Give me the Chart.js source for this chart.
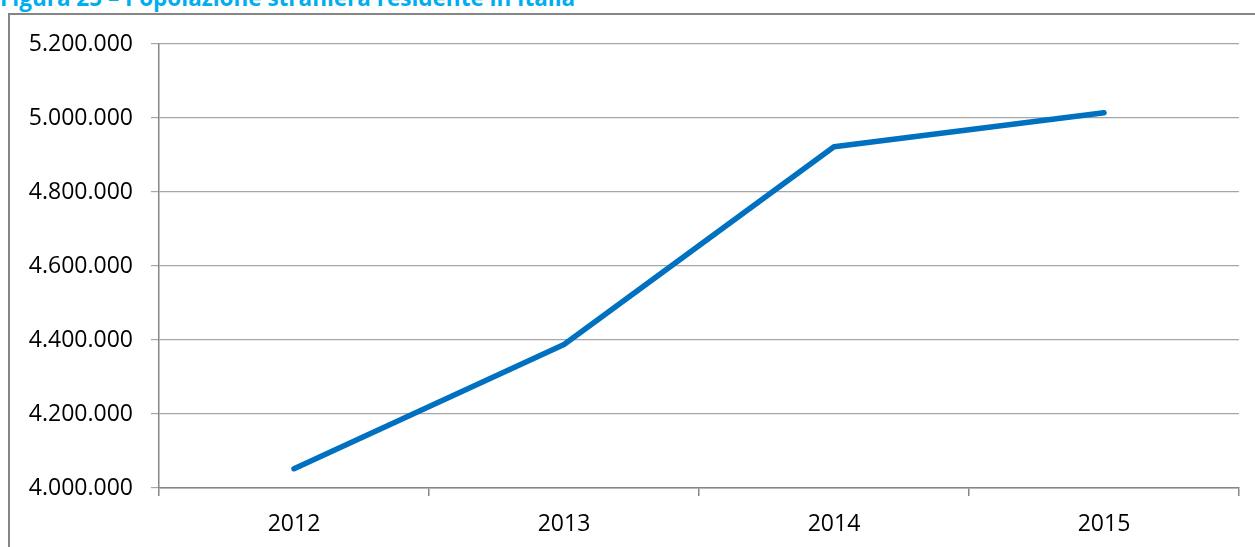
<!DOCTYPE html>
<html lang="it">
<head>
  <meta charset="UTF-8">
  <title>Popolazione straniera residente in Italia</title>
  <script src="https://cdn.jsdelivr.net/npm/chart.js"></script>
  <style>
    html, body { margin: 0; padding: 0; background: #fff; overflow: hidden; }
    #title {
      position: absolute; left: 0; top: -13px; line-height: 1;
      font-family: "Open Sans", sans-serif; font-weight: bold; font-size: 22.5px;
      color: #00aeef; white-space: nowrap;
    }
    #frame {
      position: absolute; left: 8px; top: 13px; width: 1300px; height: 600px;
      border: 2px solid #858585; box-sizing: border-box;
    }
    #wrap { position: absolute; left: 0; top: 0; width: 1255px; height: 547px; }
  </style>
</head>
<body>
  <div id="title">Figura 25 – Popolazione straniera residente in Italia</div>
  <div id="frame"></div>
  <div id="wrap"><canvas id="chart"></canvas></div>

  <script>
    // dati (popolazione straniera residente al 1° gennaio)
    const years = ['2012', '2013', '2014', '2015'];
    const residents = [4052081, 4387721, 4922085, 5014437];
    const yMin = 4000000;
    const yMax = 5200000;
    const yStep = 200000;

    function fmt(v) {
      return String(v).replace(/\B(?=(\d{3})+(?!\d))/g, '.');
    }

    const ctx = document.getElementById('chart').getContext('2d');
    new Chart(ctx, {
      type: 'line',
      data: {
        labels: years,
        datasets: [{
          data: residents,
          borderColor: '#0070c0',
          borderWidth: 5.5,
          borderCapStyle: 'round',
          borderJoinStyle: 'round',
          pointRadius: 0,
          tension: 0,
          fill: false
        }]
      },
      options: {
        responsive: true,
        maintainAspectRatio: false,
        animation: false,
        layout: { padding: { top: 44, right: 16, left: 0, bottom: 0 } },
        plugins: { legend: { display: false }, tooltip: { enabled: false } },
        scales: {
          x: {
            offset: true,
            grid: { offset: true, drawOnChartArea: false, drawTicks: true, tickLength: 8, color: '#868686', lineWidth: 1.5 },
            border: { color: '#868686', width: 1.5 },
            ticks: { color: '#000', padding: 15, font: { family: 'Open Sans', size: 23 } },
            afterFit: s => { s.height = 59; }
          },
          y: {
            min: yMin,
            max: yMax,
            grid: { color: '#a6a6a6', lineWidth: 1.2, tickLength: 8 },
            border: { color: '#868686', width: 1.5 },
            ticks: {
              stepSize: yStep,
              color: '#000',
              padding: 18,
              font: { family: 'Open Sans', size: 23 },
              callback: v => fmt(v)
            },
            afterFit: s => { s.width = 159; }
          }
        }
      }
    });
  </script>
</body>
</html>
